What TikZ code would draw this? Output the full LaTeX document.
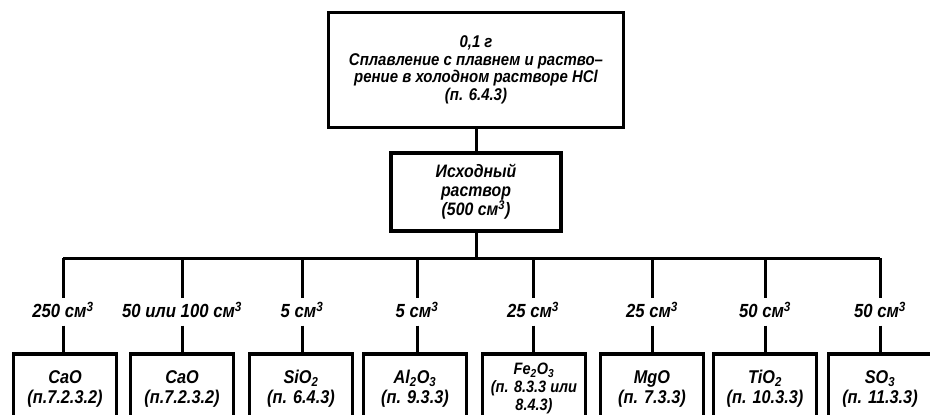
\documentclass[tikz,border=0pt]{standalone}
\usepackage{fontspec}
\setmainfont{Liberation Sans}[FakeStretch=0.88]
\begin{document}
\begin{tikzpicture}[x=1pt,y=-1pt,
    box/.style={draw, line width=3.6pt, align=center, font=\bfseries\itshape\fontsize{17}{17.5}\selectfont},
    partbox/.style={box, minimum width=103pt, minimum height=70pt, inner sep=1pt, anchor=north,
      font=\bfseries\itshape\fontsize{18.5}{19.5}\selectfont},
    vol/.style={font=\bfseries\itshape\fontsize{19}{20}\selectfont, inner xsep=2pt, inner ysep=5pt,
      text height=14pt, text depth=3pt},
    link/.style={line width=3pt}]
\useasboundingbox (0,0) rectangle (930,415);
% sample and stock solution
\node[box, minimum width=295pt, minimum height=115pt] (sample) at (476,70)
    {0,1 г\\Сплавление с плавнем и раство--\\рение в холодном растворе HCl\\(п. 6.4.3)};
\node[box, minimum width=170pt, minimum height=78pt, font=\bfseries\itshape\fontsize{18}{19}\selectfont] (stock) at (476,192)
    {Исходный\\раствор\\(500 см\textsuperscript{3})};
\draw[link] (sample) -- (stock);
% aliquots
\coordinate (b1) at (63,258);
\coordinate (b2) at (182,258);
\coordinate (b3) at (302,258);
\coordinate (b4) at (417,258);
\coordinate (b5) at (533,258);
\coordinate (b6) at (652,258);
\coordinate (b7) at (765,258);
\coordinate (b8) at (880,258);
\draw[link] (b1) -- (b8);
\draw[link] (stock) -- (stock |- b1);
\node[vol] (v1) at (63,312) {250 см\textsuperscript{3}};
\node[vol] (v2) at (182,312) {50 или 100 см\textsuperscript{3}};
\node[vol] (v3) at (302,312) {5 см\textsuperscript{3}};
\node[vol] (v4) at (417,312) {5 см\textsuperscript{3}};
\node[vol] (v5) at (533,312) {25 см\textsuperscript{3}};
\node[vol] (v6) at (652,312) {25 см\textsuperscript{3}};
\node[vol] (v7) at (765,312) {50 см\textsuperscript{3}};
\node[vol] (v8) at (880,312) {50 см\textsuperscript{3}};
% determinations
\node[partbox] (cao1) at (65,352) {CaO\\(п.7.2.3.2)};
\node[partbox] (cao2) at (182,352) {CaO\\(п.7.2.3.2)};
\node[partbox] (sio2) at (301,352) {SiO\textsubscript{2}\\(п. 6.4.3)};
\node[partbox] (al2o3) at (415,352) {Al\textsubscript{2}O\textsubscript{3}\\(п. 9.3.3)};
\node[partbox, font=\bfseries\itshape\fontsize{16.5}{18}\selectfont] (fe2o3) at (534,352) {Fe\textsubscript{2}O\textsubscript{3}\\(п. 8.3.3 или\\8.4.3)};
\node[partbox] (mgo) at (652,352) {MgO\\(п. 7.3.3)};
\node[partbox] (tio2) at (765,352) {TiO\textsubscript{2}\\(п. 10.3.3)};
\node[partbox] (so3) at (880,352) {SO\textsubscript{3}\\(п. 11.3.3)};
\foreach \i/\d in {1/cao1,2/cao2,3/sio2,4/al2o3,5/fe2o3,6/mgo,7/tio2,8/so3}{
  \draw[link] (b\i) -- (v\i.north);
  \draw[link] (v\i.south) -- (v\i.south |- \d.north);
}
\end{tikzpicture}
\end{document}
